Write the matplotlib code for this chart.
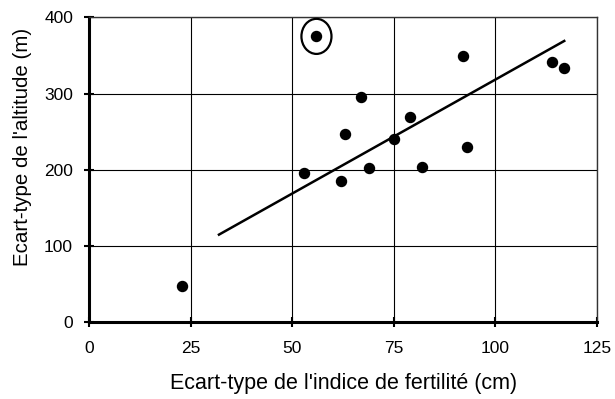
import numpy as np
import matplotlib.pyplot as plt
from matplotlib.patches import Ellipse

plt.rcParams['font.family'] = ['Liberation Sans', 'DejaVu Sans']

# écart-types par station
fertilite = [23, 53, 56, 62, 63, 67, 69, 75, 79, 82, 92, 93, 114, 117]
altitude = [47, 196, 375, 185, 247, 296, 202, 241, 269, 204, 349, 230, 341, 334]

# droite de tendance (extrémités)
tendance_x = [32, 117]
tendance_y = [115, 369]

# point mis en évidence
point_entoure = (56, 375)

xticks = [0, 25, 50, 75, 100, 125]
yticks = [0, 100, 200, 300, 400]

fig = plt.figure(figsize=(6.15, 3.99), dpi=100)
ax = fig.add_axes([0.1447, 0.1922, 0.8256, 0.7644])

ax.set_xlim(0, 125)
ax.set_ylim(0, 400)
ax.set_xticks(xticks)
ax.set_yticks(yticks)
ax.grid(True, color='black', linewidth=0.8)
ax.set_axisbelow(True)

ax.plot(tendance_x, tendance_y, color='black', linewidth=1.8, zorder=3)
ax.scatter(fertilite, altitude, s=52, color='black', zorder=4, clip_on=False)

ax.add_patch(Ellipse(point_entoure, width=7.4, height=46, fill=False,
                     edgecolor='black', linewidth=1.6, zorder=5))

for side in ['left', 'bottom']:
    ax.spines[side].set_linewidth(2.2)
for side in ['top', 'right']:
    ax.spines[side].set_linewidth(1.0)
    ax.spines[side].set_color('#333333')

ax.tick_params(direction='inout', length=7, width=1.5, labelsize=12.5, pad=8)
ax.tick_params(axis='x', pad=10)

ax.set_xlabel("Ecart-type de l'indice de fertilité (cm)", fontsize=15.5)
ax.set_ylabel("Ecart-type de l'altitude (m)", fontsize=14.8)
ax.xaxis.set_label_coords(0.501, -0.202)
ax.yaxis.set_label_coords(-0.13, 0.575)
ax.xaxis.label.set_va('center')
ax.yaxis.label.set_va('center')

fig.savefig('out.png', dpi=100)
